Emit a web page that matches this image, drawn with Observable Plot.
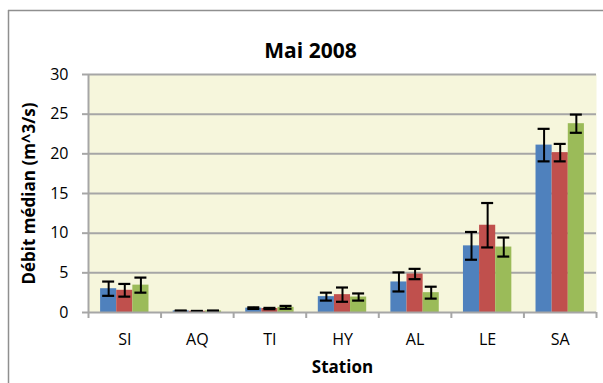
<!DOCTYPE html>
<html>
<head>
<meta charset="utf-8">
<script src="https://cdn.jsdelivr.net/npm/d3@7"></script>
<script src="https://cdn.jsdelivr.net/npm/@observablehq/plot@0.6"></script>
<style>
  html, body { margin: 0; padding: 0; background: #ffffff; overflow: hidden; }
</style>
</head>
<body>
<div id="chart"></div>
<script>
// Débit médian par station, mai 2008 (trois séries avec barres d'erreur)
const stations = ["SI", "AQ", "TI", "HY", "AL", "LE", "SA"];
const seriesNames = ["Série 1", "Série 2", "Série 3"];

const serie1 = [3.0, 0.2, 0.55, 2.0, 3.85, 8.4, 21.1];
const serie2 = [2.8, 0.15, 0.5, 2.25, 4.85, 11.0, 20.15];
const serie3 = [3.45, 0.2, 0.65, 1.95, 2.5, 8.25, 23.8];

const erreur1 = [0.9, 0.05, 0.1, 0.5, 1.2, 1.75, 2.05];
const erreur2 = [0.8, 0.05, 0.08, 0.9, 0.65, 2.8, 1.1];
const erreur3 = [0.95, 0.05, 0.18, 0.45, 0.75, 1.2, 1.15];

const yTicks = [0, 5, 10, 15, 20, 25, 30];
const colors = ["#4f81bd", "#c0504d", "#9bbb59"];

// Each station occupies one unit on x; the three bars fill two thirds of it.
const groupWidth = 2 / 3;
const barWidth = groupWidth / seriesNames.length;

const values = [serie1, serie2, serie3];
const errors = [erreur1, erreur2, erreur3];
const rows = stations.flatMap((station, i) =>
  seriesNames.map((name, j) => {
    const x1 = i + (1 - groupWidth) / 2 + j * barWidth;
    return {
      station, name,
      x1, x2: x1 + barWidth, xc: x1 + barWidth / 2,
      value: values[j][i],
      lo: values[j][i] - errors[j][i],
      hi: values[j][i] + errors[j][i]
    };
  })
);

const grey = "#a6a6a6";
const borderGrey = "#8f8f8f";

const chart = Plot.plot({
  width: 603,
  height: 383,
  marginLeft: 88,
  marginRight: 7,
  marginTop: 74,
  marginBottom: 71,
  style: { fontFamily: "'Open Sans', sans-serif", fontSize: "16px", color: "#000", background: "#ffffff" },
  x: { domain: [0, stations.length], axis: null },
  y: { domain: [0, 30], axis: null },
  color: { domain: seriesNames, range: colors },
  marks: [
    // chart-area border (left and top edges; the others run off the canvas)
    Plot.ruleX([0], { dx: -80, insetTop: -64, insetBottom: -80, stroke: borderGrey, strokeWidth: 1.5 }),
    Plot.ruleY([30], { dy: -64, insetLeft: -80, insetRight: -20, stroke: borderGrey, strokeWidth: 1.5 }),
    // plot-area fill
    Plot.frame({ fill: "#f6f6dc" }),
    // horizontal gridlines
    Plot.ruleY(yTicks.slice(1), { stroke: grey, strokeWidth: 2 }),
    // bars
    Plot.rectY(rows, { x1: "x1", x2: "x2", y1: 0, y2: "value", fill: "name" }),
    // error bars
    Plot.ruleX(rows, { x: "xc", y1: "lo", y2: "hi", stroke: "#000", strokeWidth: 2 }),
    Plot.ruleY(rows, { x1: "xc", x2: "xc", y: "hi", stroke: "#000", strokeWidth: 2.2, insetLeft: -6, insetRight: -6 }),
    Plot.ruleY(rows, { x1: "xc", x2: "xc", y: "lo", stroke: "#000", strokeWidth: 2.2, insetLeft: -6, insetRight: -6 }),
    // axis lines
    Plot.ruleX([0], { y1: 0, y2: 30, stroke: grey, strokeWidth: 2 }),
    Plot.ruleY([0], { stroke: grey, strokeWidth: 2 }),
    Plot.axisY({ ticks: yTicks, tickSize: 6, tickPadding: 14, stroke: grey, strokeWidth: 2, label: null, fontSize: 16 }),
    // category boundary ticks and station labels
    Plot.axisX({ ticks: d3.range(stations.length + 1), tickSize: 6, tickFormat: () => "", stroke: grey, strokeWidth: 2, label: null }),
    Plot.axisX({ ticks: stations.map((s, i) => i + 0.5), tickSize: 0, tickPadding: 21, tickFormat: (v) => stations[Math.floor(v)], label: null, fontSize: 16 }),
    // titles
    Plot.text(["Mai 2008"], { frameAnchor: "top-left", dx: 222, dy: -31, fontWeight: "bold", fontSize: 21, textAnchor: "middle" }),
    Plot.text(["Station"], { frameAnchor: "bottom", dy: 60, fontWeight: "bold", fontSize: 17 }),
    Plot.text(["Débit médian (m^3/s)"], { frameAnchor: "left", dx: -59, rotate: -90, textAnchor: "middle", fontWeight: "bold", fontSize: 17 })
  ]
});

document.getElementById("chart").appendChild(chart);
</script>
</body>
</html>
